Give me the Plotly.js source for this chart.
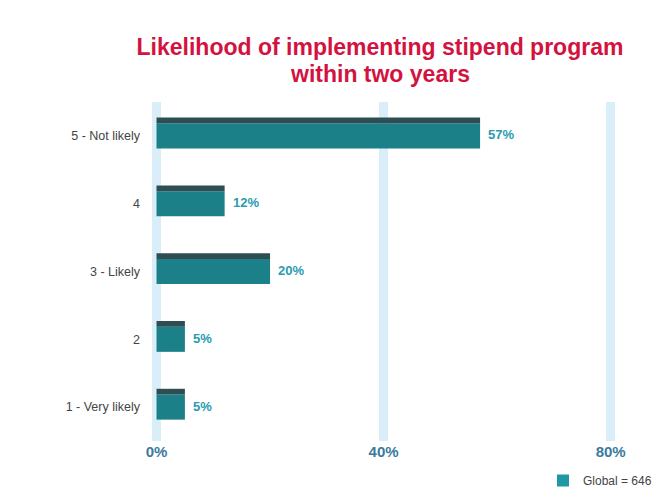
<!DOCTYPE html>
<html>
<head>
<meta charset="utf-8">
<script src="https://cdn.plot.ly/plotly-3.0.1.min.js"></script>
<style>html,body{margin:0;padding:0;background:#fff;}#chart{width:661px;height:497px;}</style>
</head>
<body>
<div id="chart"></div>
<script>
const categories = ["1 - Very likely", "2", "3 - Likely", "4", "5 - Not likely"];
const values = [5, 5, 20, 12, 57];
const valueLabels = ["5%", "5%", "20%", "12%", "57%"];
const tickValues = [0, 40, 80];
const tickLabels = ["0%", "40%", "80%"];
const legendName = "Global = 646";
const titleLine1 = "Likelihood of implementing stipend program";
const titleLine2 = "within two years";

const FONT = "Liberation Sans, Arial, sans-serif";

const body = {
  type: "bar", orientation: "h",
  x: values, y: categories,
  width: 0.37, offset: -0.185,
  marker: {color: "#1b8087", line: {width: 0}},
  hoverinfo: "skip", showlegend: false
};
const topFace = {
  type: "bar", orientation: "h",
  x: values, y: categories,
  width: 0.085, offset: 0.185,
  marker: {color: "#2f4e53", line: {width: 0}},
  hoverinfo: "skip", showlegend: false
};
const legendTrace = {
  type: "bar", orientation: "h",
  x: [null], y: [null],
  name: legendName,
  marker: {color: "#1e98a4"},
  showlegend: true, hoverinfo: "skip"
};

const annotations = values.map((v, i) => ({
  x: v, y: i, xref: "x", yref: "y",
  text: valueLabels[i], showarrow: false,
  xanchor: "left", yanchor: "middle", xshift: 6, yshift: 1,
  font: {family: FONT, size: 13, color: "#2a9bb0", weight: "bold"}
}));
annotations.push({
  text: "<b>" + titleLine2 + "</b>", showarrow: false,
  xref: "paper", yref: "paper",
  x: (380 - 148) / 474, xanchor: "center",
  y: 1 + (102 - 74) / 339, yanchor: "middle",
  font: {family: FONT, size: 23, color: "#d3123f"}
});

const layout = {
  width: 661, height: 497,
  margin: {l: 148, r: 39, t: 102, b: 56, autoexpand: false},
  paper_bgcolor: "#ffffff", plot_bgcolor: "#ffffff",
  barmode: "overlay",
  title: {
    text: "<b>" + titleLine1 + "</b>",
    font: {family: FONT, size: 23, color: "#d3123f"},
    x: 380 / 661, xanchor: "center", xref: "container",
    y: 1 - 47 / 497, yanchor: "middle", yref: "container"
  },
  xaxis: {
    range: [-1.5, 82],
    tickvals: tickValues, ticktext: tickLabels,
    showgrid: true, gridcolor: "#d9eef9", gridwidth: 9,
    zeroline: false, showline: false, ticks: "",
    tickfont: {family: FONT, size: 15, color: "#3b7a9e", weight: "bold"},
    fixedrange: true
  },
  yaxis: {
    type: "category", categoryorder: "array", categoryarray: categories,
    range: [-0.5, 4.5],
    showgrid: false, zeroline: false, showline: false, ticks: "",
    ticklabelstandoff: 7,
    tickfont: {family: FONT, size: 12.5, color: "#444444"},
    fixedrange: true
  },
  showlegend: true,
  legend: {
    xref: "container", yref: "container",
    x: 543 / 661, xanchor: "left", y: 1 - 466 / 497, yanchor: "top",
    itemwidth: 30,
    font: {family: FONT, size: 12, color: "#444444"},
    bgcolor: "rgba(0,0,0,0)"
  },
  annotations: annotations
};

Plotly.newPlot("chart", [body, topFace, legendTrace], layout, {displayModeBar: false, staticPlot: true});
</script>
</body>
</html>
